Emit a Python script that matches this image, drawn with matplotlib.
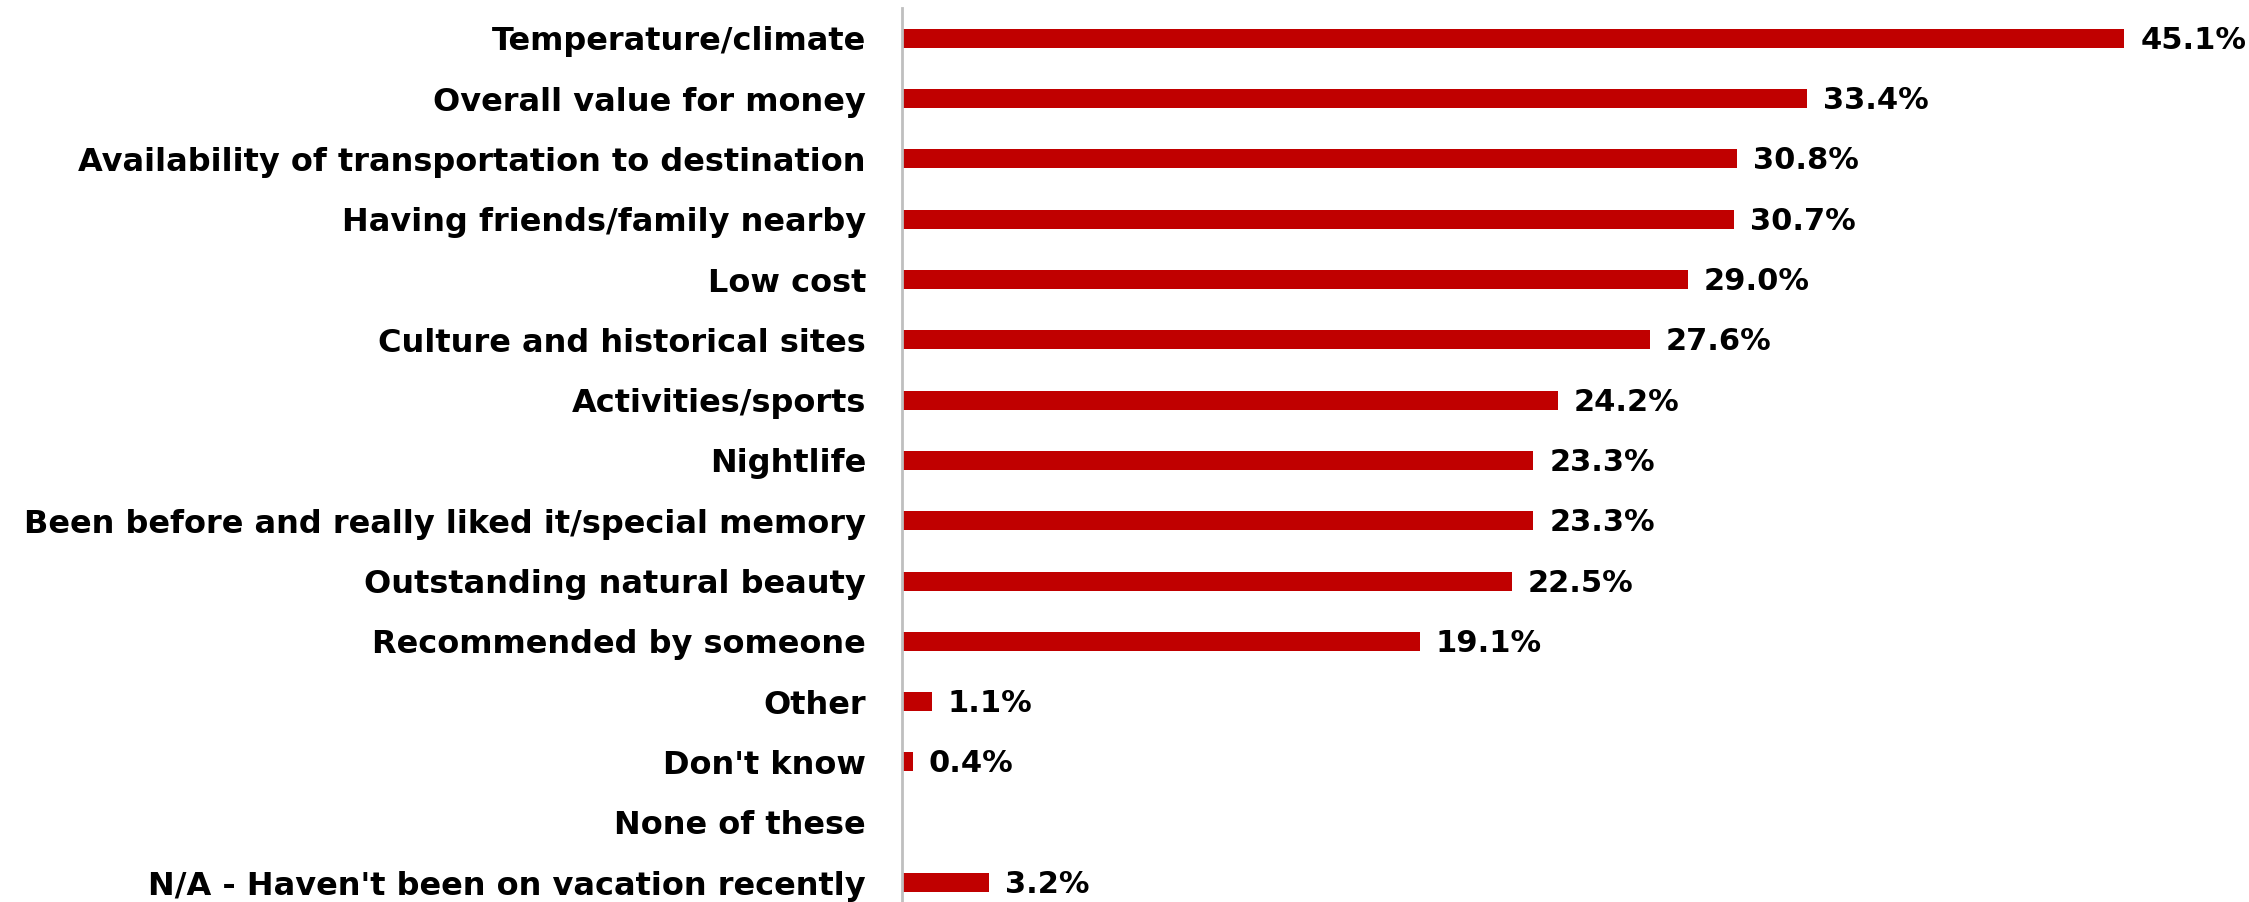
import matplotlib
matplotlib.use("Agg")
import matplotlib.pyplot as plt

categories = [
    "Temperature/climate",
    "Overall value for money",
    "Availability of transportation to destination",
    "Having friends/family nearby",
    "Low cost",
    "Culture and historical sites",
    "Activities/sports",
    "Nightlife",
    "Been before and really liked it/special memory",
    "Outstanding natural beauty",
    "Recommended by someone",
    "Other",
    "Don't know",
    "None of these",
    "N/A - Haven't been on vacation recently",
]
values = [45.1, 33.4, 30.8, 30.7, 29.0, 27.6, 24.2, 23.3, 23.3, 22.5, 19.1, 1.1, 0.4, None, 3.2]

W, H = 2249, 902
fig = plt.figure(figsize=(W / 100, H / 100), dpi=100)
plt.rcParams['font.family'] = ['DejaVu Sans']

n = len(categories)
spacing = 60.3
top_px = 8.2
ax_left = 902 / W
ax_width = 50 * 27.1 / W
ax_height = n * spacing / H
ax_bottom = 1 - (top_px + n * spacing) / H
ax = fig.add_axes([ax_left, ax_bottom, ax_width, ax_height])

ypos = list(range(n))
plot_vals = [v if v is not None else 0 for v in values]
ax.barh(ypos, plot_vals, height=0.315, color="#C00000", zorder=2)
ax.set_ylim(n - 0.5, -0.5)
ax.set_xlim(0, 50)

for s in ["top", "right", "bottom"]:
    ax.spines[s].set_visible(False)
ax.spines["left"].set_color("#BFBFBF")
ax.spines["left"].set_linewidth(2)
ax.set_xticks([])
ax.set_yticks(ypos)
ax.set_yticklabels(categories, fontsize=23, fontweight="bold")
ax.tick_params(axis="y", length=0, pad=26)

for y, v in zip(ypos, values):
    if v is None:
        continue
    ax.annotate(f"{v:.1f}%", xy=(v, y), xytext=(16, -2), textcoords="offset pixels",
                va="center", ha="left", fontsize=22, fontweight="bold")

fig.savefig("out.png", dpi=100)
